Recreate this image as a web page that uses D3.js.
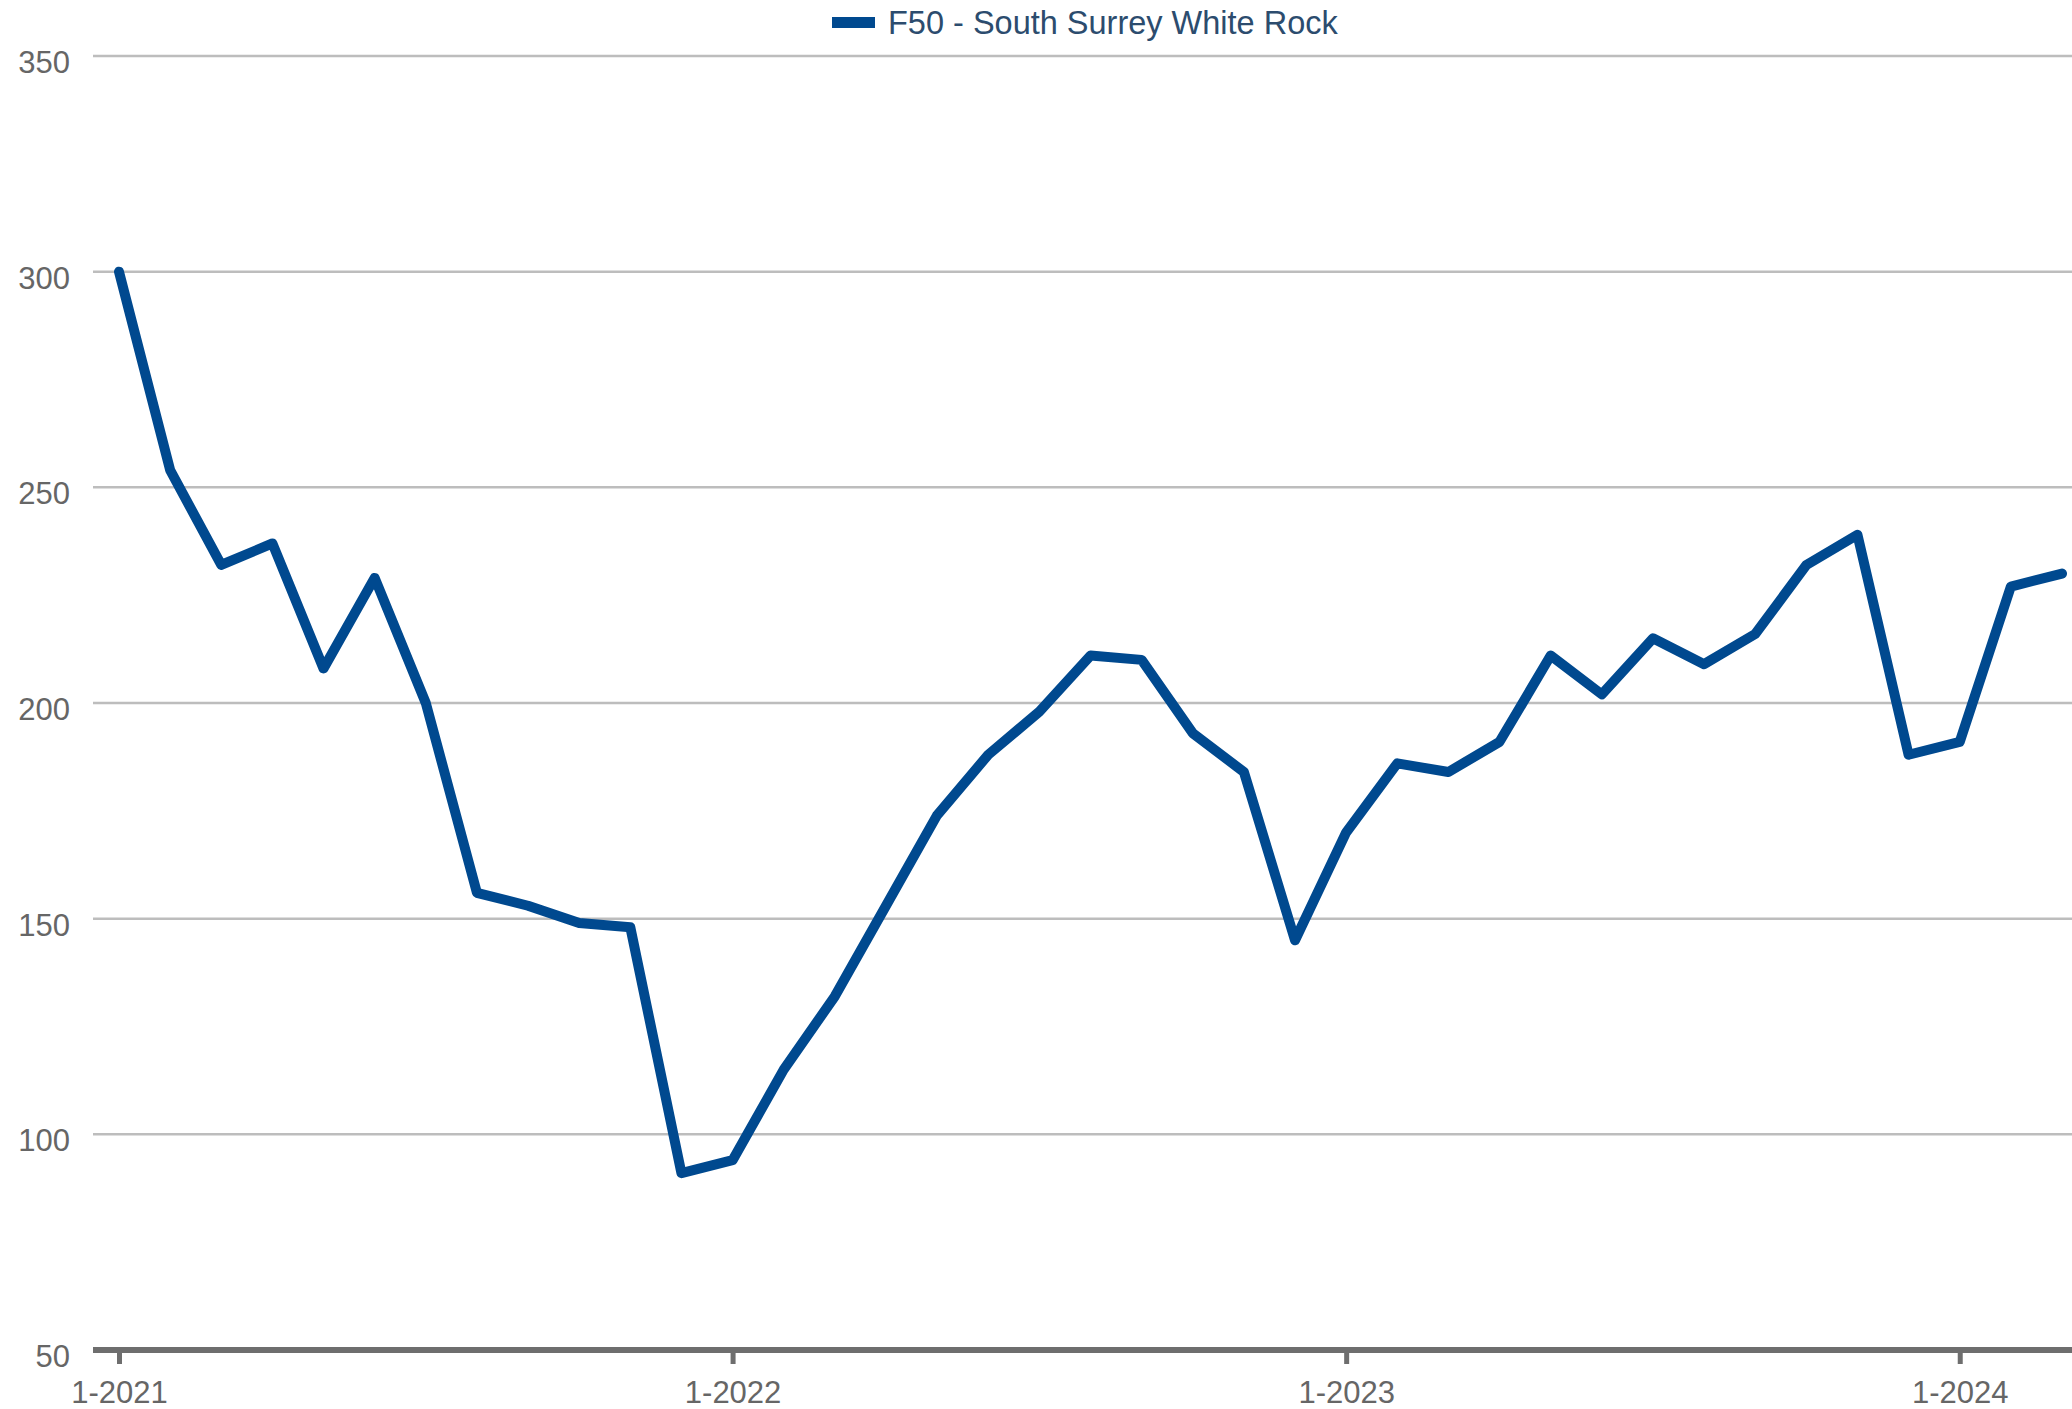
<!DOCTYPE html>
<html>
<head>
<meta charset="utf-8">
<script src="https://cdn.jsdelivr.net/npm/d3@7"></script>
<style>
  body { margin: 0; background: #fff; }
  svg { display: block; font-family: "Liberation Sans", Arial, sans-serif; }
</style>
</head>
<body>
<svg id="chart"></svg>
<script>
// series name
const seriesName = "F50 - South Surrey White Rock";
// months from 1-2021 to 3-2024
const months = d3.range(39);
const values = [
  300, 254, 232, 237, 208, 229, 200, 156, 153, 149, 148, 91,
  94, 115, 132, 153, 174, 188, 198, 211, 210, 193, 184, 145,
  170, 186, 184, 191, 211, 202, 215, 209, 216, 232, 239, 188,
  191, 227, 230
];
const yTicks = [50, 100, 150, 200, 250, 300, 350];
const xTickIdx = [0, 12, 24, 36];
const xTickLabels = ["1-2021", "1-2022", "1-2023", "1-2024"];

const W = 2072, H = 1409;
const LEFT = 93, RIGHT = 2072, TOP = 56, BOTTOM = 1350;
const LINE_COLOR = "#00498f";

const svg = d3.select("#chart")
    .attr("width", W)
    .attr("height", H);

const x = d3.scaleLinear().domain([0, 38]).range([119, 2062]);
const y = d3.scaleLinear().domain([50, 350]).range([BOTTOM, TOP]);

// grid
svg.append("g")
    .selectAll("line")
    .data(yTicks.filter(d => d > 50))
    .join("line")
    .attr("x1", LEFT)
    .attr("x2", RIGHT)
    .attr("y1", d => y(d))
    .attr("y2", d => y(d))
    .attr("stroke", "#bdbdbd")
    .attr("stroke-width", 2.5);

// y labels
svg.append("g")
    .selectAll("text")
    .data(yTicks)
    .join("text")
    .attr("x", 70)
    .attr("y", d => y(d) + 17)
    .attr("text-anchor", "end")
    .style("font-size", "31px")
    .style("fill", "#666")
    .text(d => d);

// x axis
const xAxis = svg.append("g")
    .attr("transform", `translate(0,${BOTTOM})`)
    .call(d3.axisBottom(x)
        .tickValues(xTickIdx)
        .tickFormat((d, i) => xTickLabels[i])
        .tickSize(14)
        .tickPadding(17));
xAxis.select(".domain").remove();
xAxis.selectAll(".tick line")
    .attr("stroke", "#6e6e6e")
    .attr("stroke-width", 5);
xAxis.selectAll(".tick text")
    .style("font-size", "31px")
    .style("font-family", "'Liberation Sans', Arial, sans-serif")
    .style("fill", "#666");

svg.append("line")
    .attr("x1", LEFT)
    .attr("x2", RIGHT)
    .attr("y1", BOTTOM)
    .attr("y2", BOTTOM)
    .attr("stroke", "#6e6e6e")
    .attr("stroke-width", 6);

// series line
svg.append("path")
    .datum(months)
    .attr("d", d3.line().x(i => x(i)).y(i => y(values[i])))
    .attr("fill", "none")
    .attr("stroke", LINE_COLOR)
    .attr("stroke-width", 10)
    .attr("stroke-linejoin", "round")
    .attr("stroke-linecap", "round");

// legend
const legend = svg.append("g");
legend.append("rect")
    .attr("x", 832)
    .attr("y", 17)
    .attr("width", 43)
    .attr("height", 11)
    .attr("fill", LINE_COLOR);
legend.append("text")
    .attr("x", 888)
    .attr("y", 34)
    .style("font-size", "32.5px")
    .style("fill", "#2c4c6e")
    .text(seriesName);
</script>
</body>
</html>
